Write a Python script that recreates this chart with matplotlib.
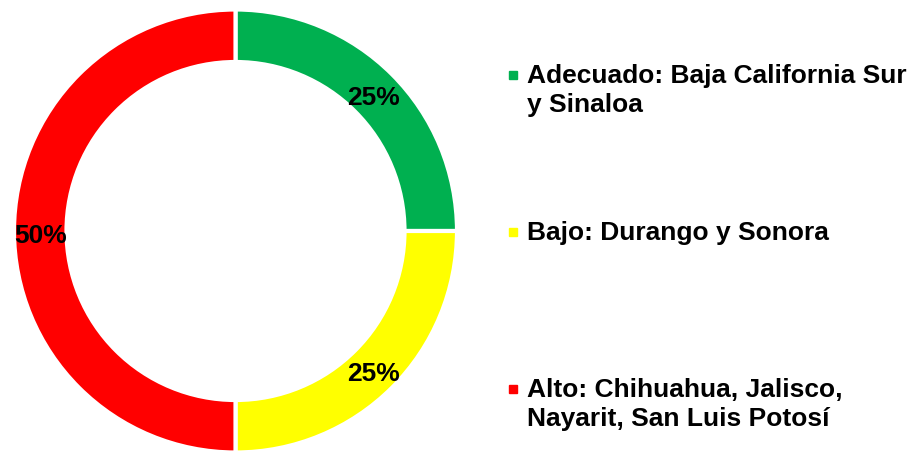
import numpy as np
import matplotlib.pyplot as plt
from matplotlib.patches import Rectangle

# data
labels = ["Adecuado: Baja California Sur\ny Sinaloa",
          "Bajo: Durango y Sonora",
          "Alto: Chihuahua, Jalisco,\nNayarit, San Luis Potosí"]
values = [25, 25, 50]
colors = ["#00B050", "#FFFF00", "#FF0000"]

plt.rcParams['font.family'] = ['Liberation Sans', 'DejaVu Sans']

W, H = 914, 453
fig = plt.figure(figsize=(W / 100, H / 100), dpi=100)

# donut
ring = 0.237
ax = fig.add_axes([14 / W, 0.5 / H, 443 / W, 443 / H])
wedges, texts = ax.pie(values, colors=colors, startangle=90, counterclock=False,
                       radius=1, wedgeprops=dict(width=ring, edgecolor='white', linewidth=3))
for w, v in zip(wedges, values):
    ang = np.deg2rad((w.theta1 + w.theta2) / 2)
    r = 1 - ring / 2
    ax.annotate(f"{v}%", (r * np.cos(ang), r * np.sin(ang)), xytext=(0, -1.5),
                textcoords='offset points', ha='center', va='center_baseline',
                fontsize=19, fontweight='bold', color='black')
ax.set_xlim(-1, 1)
ax.set_ylim(-1, 1)
ax.set_aspect('equal')
ax.axis('off')

# legend drawn by hand
ys = [75, 232, 389]
for lab, col, y in zip(labels, colors, ys):
    fig.patches.append(Rectangle((509 / W, 1 - (y + 4) / H), 8 / W, 8 / H,
                                 transform=fig.transFigure, color=col))
    fig.text(527 / W, 1 - (y - 11) / H, lab, ha='left', va='top', fontsize=19,
             fontweight='bold', linespacing=1.28)

fig.savefig("out.png", dpi=100)
